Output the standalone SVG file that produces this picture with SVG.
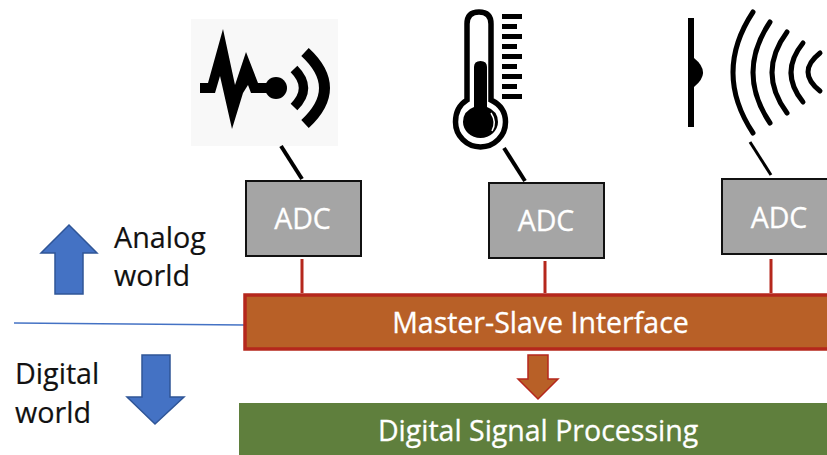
<svg xmlns="http://www.w3.org/2000/svg" width="827" height="455" viewBox="0 0 827 455">
<style>
text{font-family:"Open Sans","Noto Sans","Liberation Sans",sans-serif}
.adc rect{fill:#a5a5a5;stroke:#111;stroke-width:2}
.adc text{fill:#fff;stroke:#fff;stroke-width:.3;font-size:28.5px;text-anchor:middle}
.lab{fill:#111;stroke:#111;stroke-width:.2;font-size:28.7px}
.bar{fill:#fff;stroke:#fff;stroke-width:.3;font-size:28.5px;text-anchor:middle}
.blk{stroke:#000;stroke-width:4;fill:none}
.red{stroke:#b5271c;stroke-width:3;fill:none}
.arrow{fill:#4472c4;stroke:#2f5597;stroke-width:1.5}
.wave{stroke:#000;fill:none;stroke-linecap:round;stroke-width:5}
.tick{fill:#000}
</style>
<g id="icon-vibration">
<rect x="191" y="19" width="147" height="127" fill="#f8f8f8"/>
<path d="M200 83H208L223 29L235 85L246 52L258 83H270V93H251L248 85L243 93L232 129L220 76L215 93H200Z" fill="#000"/>
<circle cx="276" cy="88" r="11" fill="#000"/>
<path d="M294 69Q313 88 294 107" fill="none" stroke="#000" stroke-width="9.5"/>
<path d="M305 52Q344 88 305 124" fill="none" stroke="#000" stroke-width="11"/>
</g>
<g id="icon-thermometer">
<path d="M467 100V24Q467 12 479 12Q491 12 491 24V100Q505.500 107 505.500 122A25 25 0 1 1 455.500 122Q455.500 107 467 100Z" fill="#fff" stroke="#000" stroke-width="5.500"/>
<path d="M474 107V67Q474 61 480.500 61Q487 61 487 67V107Q498 111 498 122A17.500 16 0 1 1 463 122Q463 111 474 107Z" fill="#000"/>
<path d="M491 113Q497 122 492 131" fill="none" stroke="#fff" stroke-width="1.500"/>
<rect class="tick" x="502" y="14" width="20" height="5"/><rect class="tick" x="502" y="24" width="15" height="5"/><rect class="tick" x="502" y="34" width="20" height="5"/><rect class="tick" x="502" y="44" width="15" height="5"/><rect class="tick" x="502" y="54" width="20" height="5"/><rect class="tick" x="502" y="64" width="15" height="5"/><rect class="tick" x="502" y="74" width="20" height="5"/><rect class="tick" x="502" y="84" width="15" height="5"/><rect class="tick" x="502" y="94" width="20" height="5"/>
</g>
<g id="icon-sound">
<rect x="688" y="18" width="6" height="109" fill="#000"/>
<path d="M694 58Q712 72.500 694 87Z" fill="#000"/>
<path class="wave" d="M753 12Q713 72.500 753 133"/>
<path class="wave" d="M770 22Q736 72.500 770 123"/>
<path class="wave" d="M787 32Q757 72.500 787 113"/>
<path class="wave" d="M803 43Q779 72.500 803 102"/>
<path class="wave" d="M820 53Q796 72 820 91"/>
</g>
<g id="connectors">
<path class="blk" d="M281 146L302 179"/>
<path class="blk" d="M504 148L525 181"/>
<path class="blk" style="stroke-width:3" d="M750 142L771 175"/>
<path class="red" d="M302 259V293M545 261V293M771 259V293"/>
<path d="M14 323L245 325" stroke="#4472c4" stroke-width="1.500" fill="none"/>
</g>
<g id="adc-1" class="adc"><rect x="246" y="181" width="115" height="75"/><text x="302.500" y="229">ADC</text></g>
<g id="adc-2" class="adc"><rect x="489" y="183" width="115" height="75"/><text x="546" y="231">ADC</text></g>
<g id="adc-3" class="adc"><rect x="722" y="179" width="115" height="75"/><text x="779" y="228">ADC</text></g>
<g id="master-slave"><rect x="245" y="295" width="590" height="54" fill="#b86027" stroke="#b5271c" stroke-width="3.500"/><text class="bar" x="540.500" y="333">Master-Slave Interface</text></g>
<g id="dsp"><rect x="239" y="403" width="600" height="52" fill="#5f7f3d"/><text class="bar" x="538" y="441">Digital Signal Processing</text></g>
<path id="down-arrow" d="M528 355H548V379H558L538 399L518 379H528Z" fill="#b86027" stroke="#b5271c" stroke-width="1.500"/>
<g id="analog"><path class="arrow" d="M69 225L97 253H83V294H55V253H41Z"/><text class="lab" x="114" y="248">Analog</text><text class="lab" x="114" y="286">world</text></g>
<g id="digital"><path class="arrow" d="M142 355H170V397H184L155 424L127 397H142Z"/><text class="lab" x="15" y="384">Digital</text><text class="lab" x="15" y="423">world</text></g>
</svg>
